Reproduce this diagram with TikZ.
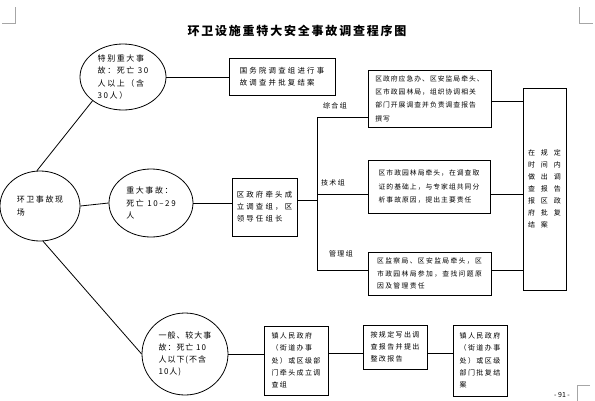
\documentclass[tikz,border=0pt]{standalone}
\usepackage{fontspec}
\setmainfont{Noto Sans CJK SC}
\usetikzlibrary{shapes.geometric}
\newcommand\ttlfont{\fontsize{12}{14}\selectfont\bfseries\addfontfeature{LetterSpace=15}}
\newcommand\elfont{\fontsize{8}{12.2}\selectfont\addfontfeature{LetterSpace=20}}
\newcommand\bxfont{\fontsize{6.8}{13.3}\selectfont\addfontfeature{LetterSpace=15}}
\newcommand\bxfontb{\fontsize{7.4}{12}\selectfont\addfontfeature{LetterSpace=30}}
\newcommand\bxfontc{\fontsize{7}{12.3}\selectfont\addfontfeature{LetterSpace=20}}
\newcommand\tallfont{\fontsize{7}{12}\selectfont\addfontfeature{LetterSpace=85}}
\begin{document}
\begin{tikzpicture}[x=1pt,y=-1pt,
  ln/.style={line width=0.8pt,draw=black},
  ell/.style={ln,ellipse,inner sep=0pt,align=left,font=\elfont},
  bx/.style={ln,rectangle,inner sep=0pt,align=left},
  lbl/.style={font=\bxfontc},
  cmark/.style={draw=black!35,line width=0.7pt}]
\useasboundingbox (0,0) rectangle (595,400);
% corner marks
\draw[cmark] (2,23) -- (15,23) -- (15,7);
\draw[cmark] (593,23) -- (579,23) -- (579,7);
\draw[cmark] (590,385) -- (577,385) -- (577,401);
\node[font=\fontsize{7}{8}\selectfont] (pg) at (562,394.5) {- 91 -};
% title
\node[font=\ttlfont] (title) at (297,31) {环卫设施重特大安全事故调查程序图};
% ellipses
\node[ell,minimum width=80pt,minimum height=70pt] (M) at (40,206) {环卫事故现\\场};
\node[ell,minimum width=86pt,minimum height=66pt] (E1) at (123,77) {特别重大事\\故：死亡 30\\人以上（含\\30人）};
\node[ell,minimum width=84pt,minimum height=68pt] (E2) at (151,203) {重大事故：\\死亡 10–29\\人};
\node[ell,minimum width=86pt,minimum height=82pt,font=\fontsize{8}{12}\selectfont\addfontfeature{LetterSpace=12}] (E3) at (185,354) {一般、较大事\\故：死亡 10\\人以下(不含\\10人)};
% boxes
\node[bx,font=\bxfontb,minimum width=106pt,minimum height=37pt] (G) at (282,77) {国务院调查组进行事\\故调查并批复结案\vphantom{g}};
\node[bx,font=\bxfontb,minimum width=65pt,minimum height=58pt] (Q) at (264.5,207) {区政府牵头成\\立调查组，区\\领导任组长};
\node[bx,font=\bxfont,minimum width=123pt,minimum height=57pt] (Z) at (429.5,98.5) {区政府应急办、区安监局牵头、\\区市政园林局，组织协调相关\\部门开展调查并负责调查报告\\撰写};
\node[bx,font=\bxfont,minimum width=122pt,minimum height=53pt] (J) at (429,186.5) {区市政园林局牵头，在调查取\\证的基础上，与专家组共同分\\析事故原因，提出主要责任};
\node[bx,font=\fontsize{6.8}{12.3}\selectfont\addfontfeature{LetterSpace=20},minimum width=123pt,minimum height=43pt] (L) at (429.5,273.5) {区监察局、区安监局牵头，区\\市政园林局参加，查找问题原\\因及管理责任};
\node[bx,font=\tallfont,minimum width=43pt,minimum height=202pt] (T) at (544.5,189) {在规定\\时间内\\做出调\\查报告\\报区政\\府批复\\结案};
\node[bx,font=\bxfontc,minimum width=64pt,minimum height=69pt] (B1) at (296,360.5) {镇人民政府\\（街道办事\\处）或区级部\\门牵头成立调\\查组};
\node[bx,font=\bxfontc,minimum width=64pt,minimum height=44pt] (B2) at (395,347) {按规定写出调\\查报告并提出\\整改报告};
\node[bx,font=\bxfontc,minimum width=54pt,minimum height=71pt] (B3) at (480,360.5) {镇人民政府\\（街道办事\\处）或区级\\部门批复结\\案};
% bus
\coordinate (bT) at (317,117);
\coordinate (bM) at (317,194);
\coordinate (bB) at (317,270);
\coordinate (qj) at (317,200);
\node[lbl] (lz) at (335,106) {综合组};
\node[lbl] (lj) at (333,183) {技术组};
\node[lbl] (lg) at (341,254) {管理组};
% connectors
\draw[ln] (M.95) -- (E1.218);
\draw[ln] (M.east) -- (E2.west);
\draw[ln] (M.-85) -- (E3.west);
\draw[ln] (E1.east) -- (G.west);
\draw[ln] (E2.east) -- (E2.east -| Q.west);
\draw[ln] (Q.east |- qj) -- (qj);
\draw[ln] (bT) -- (bB);
\draw[ln] (bT) -- (bT -| Z.west);
\draw[ln] (bM) -- (bM -| J.west);
\draw[ln] (bB) -- (bB -| L.west);
\coordinate (zr) at (491,101);
\draw[ln] (zr) -- (zr -| T.west);
\draw[ln] (J.east |- bM) -- (bM -| T.west);
\draw[ln] (L.east |- bB) -- (bB -| T.west);
\coordinate (ly) at (0,353);
\draw[ln] (E3.east) -- (E3.east -| B1.west);
\draw[ln] (B1.east |- ly) -- (ly -| B2.west);
\draw[ln] (B2.east |- ly) -- (ly -| B3.west);
\end{tikzpicture}
\end{document}
